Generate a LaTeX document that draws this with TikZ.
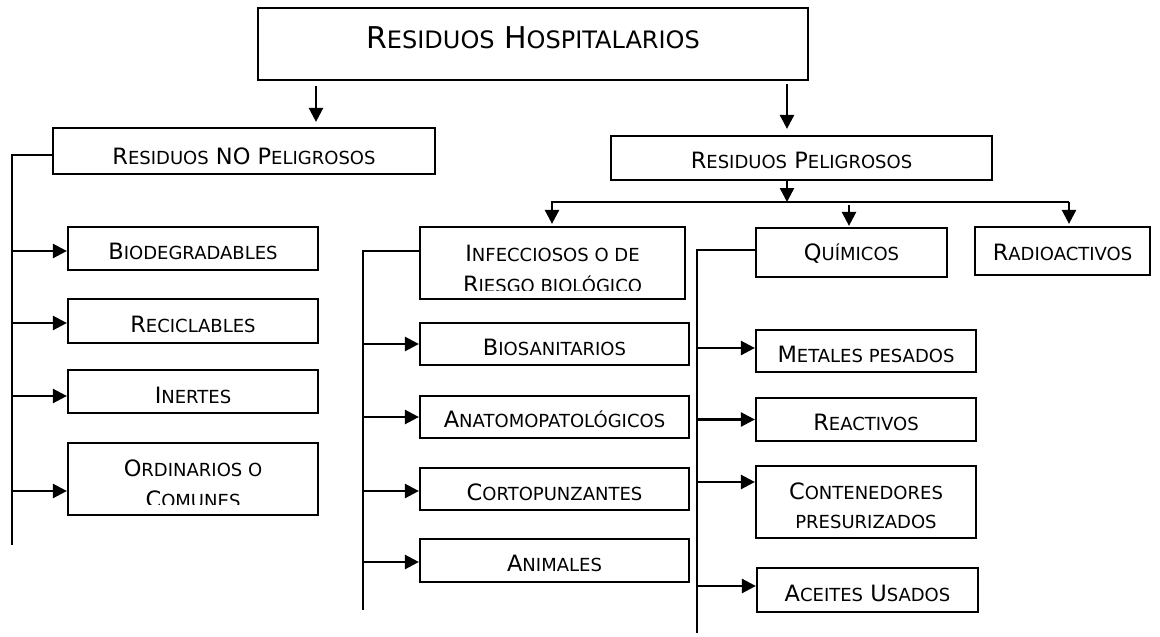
\documentclass[tikz,border=0pt]{standalone}
\usepackage{fontspec}
\setmainfont{DejaVu Sans}
\usetikzlibrary{arrows.meta,calc}
\newcommand\bg{\fontsize{22.5}{27}\selectfont}
\newcommand\s[1]{{\fontsize{18}{27}\selectfont #1}}
\newcommand\tbg{\fontsize{30}{34}\selectfont}
\newcommand\ts[1]{{\fontsize{24}{30}\selectfont #1}}
\begin{document}
\begin{tikzpicture}[x=1pt,y=-1pt,
  box/.style={draw, line width=2.2pt, inner sep=0pt, font=\bg, text height=22pt, text depth=0pt},
  txt/.style={inner sep=0pt, font=\bg, anchor=base},
  ln/.style={line width=2.5pt},
  arr/.style={line width=2.5pt, -{Triangle[length=14pt,width=14pt]}}]
\useasboundingbox (0,0) rectangle (1160,637);
% boxes
\node[box, font=\tbg, text height=8pt, minimum width=550pt, minimum height=72pt] (top) at (533,44) {R\ts{ESIDUOS} H\ts{OSPITALARIOS}};
\node[box, text height=26pt, minimum width=382pt, minimum height=46pt] (nop) at (244,151) {R\s{ESIDUOS} NO P\s{ELIGROSOS}};
\node[box, text height=20pt, minimum width=381pt, minimum height=44pt] (pel) at (801.5,158) {R\s{ESIDUOS} P\s{ELIGROSOS}};
% no peligrosos children
\node[box, text height=21pt, minimum width=250pt, minimum height=43pt] (bio) at (193,248.5) {B\s{IODEGRADABLES}};
\node[box, minimum width=250pt, minimum height=44pt] (rec) at (193,321) {R\s{ECICLABLES}};
\node[box, text height=24pt, minimum width=250pt, minimum height=43pt] (ine) at (193,391.5) {I\s{NERTES}};
\node[box, minimum width=250pt, minimum height=72pt] (ord) at (193,479) {};
\node[txt] (ord1) at (193,476) {O\s{RDINARIOS O}};
\begin{scope}
\clip (68,443) rectangle (318,504);
\node[txt] (ord2) at (193,507) {C\s{OMUNES}};
\end{scope}
% peligrosos children
\node[box, minimum width=265pt, minimum height=72pt] (inf) at (552.5,263) {};
\node[txt] (inf1) at (552.5,261) {I\s{NFECCIOSOS O DE}};
\begin{scope}
\clip (420,227) rectangle (685,290);
\node[txt] (inf2) at (552.5,292) {R\s{IESGO BIOLÓGICO}};
\end{scope}
\node[box, text height=15pt, minimum width=191pt, minimum height=49pt] (qui) at (851.5,252.5) {Q\s{UÍMICOS}};
\node[box, text height=18pt, minimum width=175pt, minimum height=48pt] (rad) at (1062.5,251) {R\s{ADIOACTIVOS}};
% infecciosos children
\node[box, minimum width=269pt, minimum height=42pt] (bsa) at (554.5,344) {B\s{IOSANITARIOS}};
\node[box, text height=20pt, minimum width=269pt, minimum height=42pt] (ana) at (554.5,417) {A\s{NATOMOPATOLÓGICOS}};
\node[box, minimum width=269pt, minimum height=42pt] (cor) at (554.5,489) {C\s{ORTOPUNZANTES}};
\node[box, text height=21pt, minimum width=269pt, minimum height=43pt] (ani) at (554.5,560.5) {A\s{NIMALES}};
% quimicos children
\node[box, minimum width=220pt, minimum height=42pt] (met) at (866,351) {M\s{ETALES PESADOS}};
\node[box, text height=21pt, minimum width=220pt, minimum height=43pt] (rea) at (866,419.5) {R\s{EACTIVOS}};
\node[box, minimum width=220pt, minimum height=72pt] (con) at (866,502) {};
\node[txt] (con1) at (866,499) {C\s{ONTENEDORES}};
\node[txt] (con2) at (866,528) {\s{PRESURIZADOS}};
\node[box, minimum width=221pt, minimum height=44pt] (ace) at (867.5,590) {A\s{CEITES} U\s{SADOS}};
% coordinates
\coordinate (a1) at (316,0);
\coordinate (a2) at (787,0);
\coordinate (busL) at (552,202);
\coordinate (busR) at (1069,202);
\coordinate (aq) at (849,205);
\coordinate (L1) at (12,155);
\coordinate (L1e) at (12,545);
\coordinate (L2) at (363,251);
\coordinate (L2e) at (363,610);
\coordinate (L3) at (697,250);
\coordinate (L3e) at (697,633);
% top arrows
\draw[arr, shorten <=5pt, shorten >=5pt] (top.south -| a1) -- (nop.north -| a1);
\draw[arr, shorten <=3pt, shorten >=6pt] (top.south -| a2) -- (pel.north -| a2);
\draw[arr] (pel.south -| a2) -- (busL -| a2);
\draw[arr, shorten >=2pt] (busR) -- (busL) -- (busL |- inf.north);
\draw[arr, shorten >=2pt] (busR) -- (busR |- rad.north);
\draw[arr, shorten >=1pt] (aq) -- (aq |- qui.north);
% left trunk
\draw[ln] (nop.west |- L1) -- (L1) -- (L1e);
\draw[arr] ([yshift=-2.5pt]bio.west -| L1) -- ([yshift=-2.5pt]bio.west);
\draw[arr] ([yshift=-2pt]rec.west -| L1) -- ([yshift=-2pt]rec.west);
\draw[arr] ([yshift=-4.5pt]ine.west -| L1) -- ([yshift=-4.5pt]ine.west);
\draw[arr] ([yshift=-12pt]ord.west -| L1) -- ([yshift=-12pt]ord.west);
% infecciosos trunk
\draw[ln] (inf.west |- L2) -- (L2) -- (L2e);
\draw[arr] (bsa.west -| L2) -- (bsa.west);
\draw[arr] (ana.west -| L2) -- (ana.west);
\draw[arr] ([yshift=-2pt]cor.west -| L2) -- ([yshift=-2pt]cor.west);
\draw[arr] ([yshift=-1.5pt]ani.west -| L2) -- ([yshift=-1.5pt]ani.west);
% quimicos trunk
\draw[ln] (qui.west |- L3) -- (L3) -- (L3e);
\draw[arr] ([yshift=3pt]met.west -| L3) -- ([yshift=3pt]met.west);
\draw[arr] (rea.west -| L3) -- (rea.west);
\draw[arr] ([yshift=20pt]con.west -| L3) -- ([yshift=20pt]con.west);
\draw[arr] ([yshift=4pt]ace.west -| L3) -- ([yshift=4pt]ace.west);
\end{tikzpicture}
\end{document}
